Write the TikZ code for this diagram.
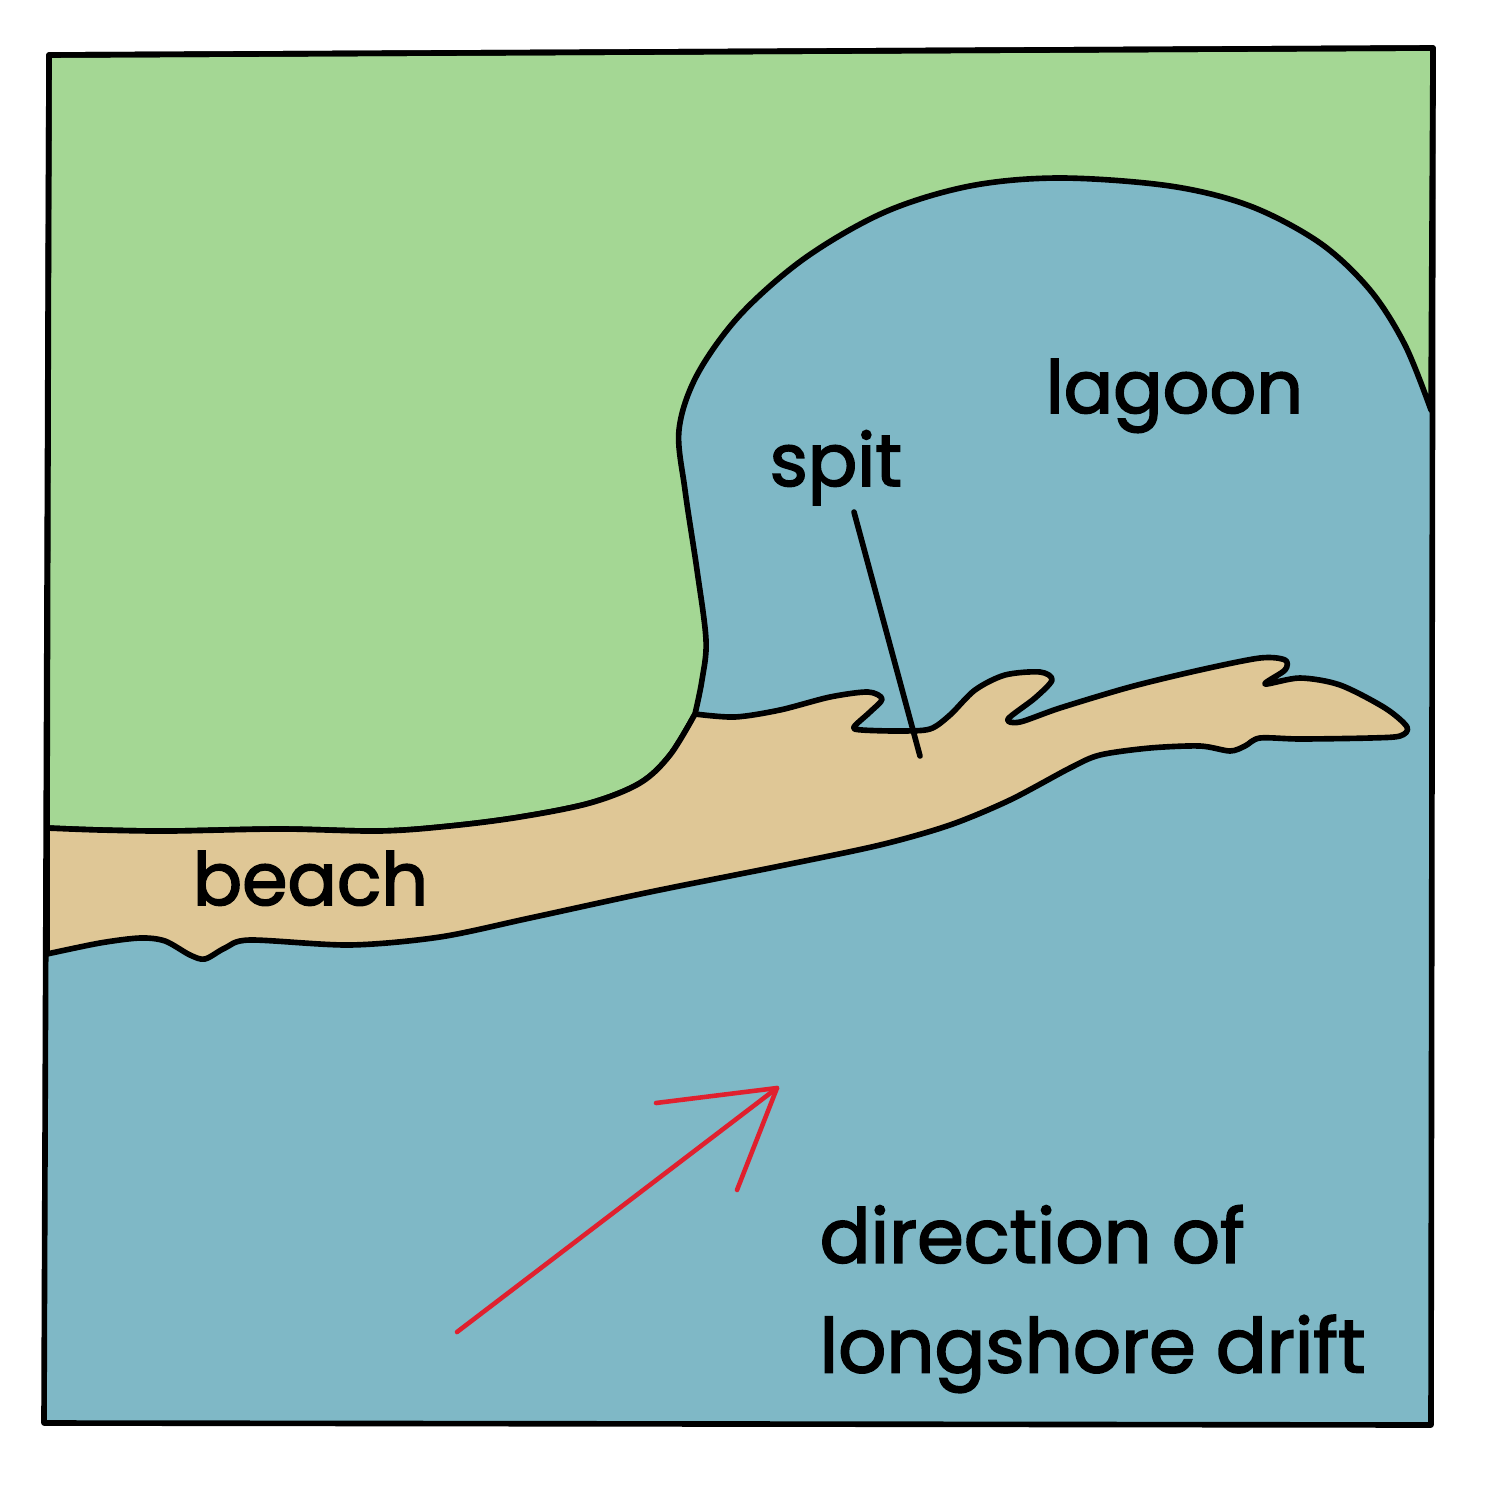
\documentclass[tikz,border=0pt]{standalone}
\usepackage{fontspec}
\setmainfont{Poppins}[FakeBold=2.2]
\definecolor{landgreen}{HTML}{A4D794}
\definecolor{seablue}{HTML}{7FB8C6}
\definecolor{sandtan}{HTML}{DFC796}
\definecolor{driftred}{HTML}{E0202E}
\tikzset{
  outline/.style={draw=black,line width=1.6pt,line join=round,line cap=round},
  caption/.style={font=\fontsize{20.8}{31.2}\selectfont,inner sep=0pt,text=black,anchor=base west},
  driftline/.style={draw=driftred,line width=1.3pt,line cap=round,line join=round}
}
\begin{document}
\begin{tikzpicture}[x=0.01cm,y=-0.01cm]
  \useasboundingbox (0,0) rectangle (1503,1485);
  % sea
  \fill[seablue] (49,55) -- (1433,48) -- (1431,1425) -- (44,1423) -- cycle;
  % land
  \path[fill=landgreen,outline] (47,828) -- (49,55) -- (1433,48) -- (1431,410)
    -- plot[smooth,tension=0.55] coordinates {(1431,410) (1405,345) (1370,290) (1320,243) (1250,206) (1170,186) (1060,178) (970,186) (885,212) (805,258) (740,315) (697,375) (679,430) (685,490) (697,570) (706,640) (702,680) (695,714)}
    -- plot[smooth,tension=0.55] coordinates {(695,714) (670,755) (640,783) (590,803) (520,817) (450,826) (380,831) (280,829) (170,831) (100,830) (47,828)}
    -- cycle;
  % beach and spit
  \path[fill=sandtan,outline] (47,828)
    -- plot[smooth,tension=0.55] coordinates {(47,828) (100,830) (170,831) (280,829) (380,831) (450,826) (520,817) (590,803) (640,783) (670,755) (695,714)}
    -- plot[smooth,tension=0.5] coordinates {(695,714) (735,717) (780,710) (830,697) (868,692) (882,699) (870,712) (854,727) (862,730) (900,731) (930,729) (950,715) (975,690) (1005,675) (1040,672) (1052,680) (1035,698) (1008,719) (1020,722) (1060,708) (1130,687) (1200,670) (1260,658) (1285,660) (1285,670) (1265,684) (1300,678) (1340,685) (1385,708) (1407,727) (1400,736) (1370,738) (1300,739) (1260,738) (1245,746) (1230,751) (1200,746) (1150,748) (1100,755) (1070,768) (1010,800) (950,825) (880,845) (780,866) (650,892) (530,918) (440,937) (350,945) (250,940) (225,948) (205,959) (190,955) (165,941) (140,938) (100,943) (47,954)}
    -- cycle;
  % frame
  \draw[outline] (49,55) -- (1433,48) -- (1431,1425) -- (44,1423) -- cycle;
  % labels
  \node[caption] (lagoon) at (1045,413) {lagoon};
  \node[caption] (spit) at (769,486) {spit};
  \node[caption] (beach) at (192,905) {beach};
  \node[caption,anchor=west,align=left,font=\fontsize{21.4}{31.2}\selectfont] (drift) at (819,1299) {direction of\\longshore drift};
  % spit leader
  \coordinate (spittop) at (854,512);
  \coordinate (spitend) at (920,756);
  \draw[outline] (spittop) -- (spitend);
  % drift arrow
  \coordinate (tail) at (457,1332);
  \coordinate (tip) at (777,1088);
  \coordinate (barbA) at (656,1103);
  \coordinate (barbB) at (737,1190);
  \draw[driftline] (tail) -- (tip);
  \draw[driftline] (barbA) -- (tip) -- (barbB);
\end{tikzpicture}
\end{document}
